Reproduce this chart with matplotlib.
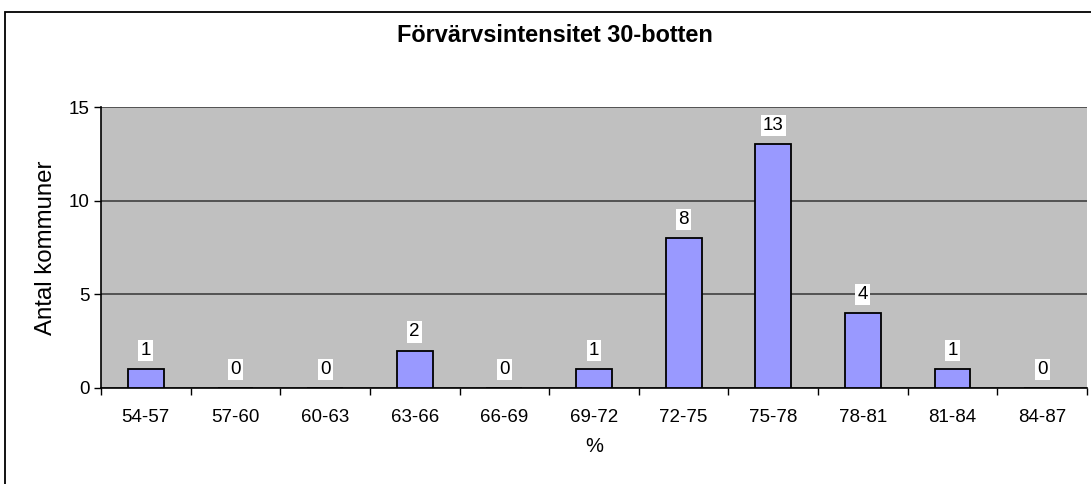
import matplotlib
matplotlib.use("Agg")
import matplotlib.pyplot as plt
from matplotlib.patches import Rectangle

categories = ["54-57", "57-60", "60-63", "63-66", "66-69", "69-72",
              "72-75", "75-78", "78-81", "81-84", "84-87"]
counts = [1, 0, 0, 2, 0, 1, 8, 13, 4, 1, 0]

plt.rcParams['font.family'] = ['Liberation Sans', 'DejaVu Sans']

W, H = 1091, 484
fig = plt.figure(figsize=(W / 100, H / 100), dpi=100)
fig.patch.set_facecolor('white')

# outer chart border (right/bottom edges run off the picture)
fig.patches.append(Rectangle((5 / W, -0.1), 1.2, 1 - 12 / H + 0.1,
                             transform=fig.transFigure, fill=False,
                             edgecolor='black', linewidth=1.3))

ax = fig.add_axes([101 / W, 1 - 388 / H, (1087 - 101) / W, (388 - 107) / H])
ax.set_facecolor('#c0c0c0')

x = list(range(len(categories)))
ax.bar(x, counts, width=0.4, color='#9999ff', edgecolor='black',
       linewidth=1.3, zorder=3)

for xi, c in zip(x, counts):
    ax.annotate(str(c), (xi, c), xytext=(0, 13.5), textcoords='offset points',
                ha='center', va='center', fontsize=13.5, zorder=5,
                bbox=dict(boxstyle='square,pad=0.12', fc='white', ec='none'))

ax.set_xlim(-0.5, len(categories) - 0.5)
ax.set_ylim(0, 15)
ax.set_yticks([0, 5, 10, 15])
ax.yaxis.grid(True, color='#404040', linewidth=1.2, zorder=1)
ax.set_axisbelow(True)

ax.set_xticks(x)
ax.set_xticklabels(categories, fontsize=13.5)
ax.set_xticks([i + 0.5 for i in range(-1, len(categories))], minor=True)
ax.tick_params(axis='x', which='major', length=0, pad=15)
ax.tick_params(axis='x', which='minor', length=5, width=1, direction='out')
ax.tick_params(axis='y', length=5, width=1, direction='out', labelsize=13.5, pad=3)

for side in ['top', 'right']:
    ax.spines[side].set_visible(False)
ax.spines['left'].set_linewidth(1.2)
ax.spines['bottom'].set_linewidth(1.2)

ax.set_ylabel("Antal kommuner", fontsize=17.3, labelpad=9)
ax.set_xlabel("%", fontsize=14.5, labelpad=8)

fig.text(555 / W, 1 - 35 / H, "Förvärvsintensitet 30-botten", ha='center',
         va='center', fontsize=13.5 * 23.5 / 18.8, fontweight='bold')

fig.savefig("out.png", dpi=100)
